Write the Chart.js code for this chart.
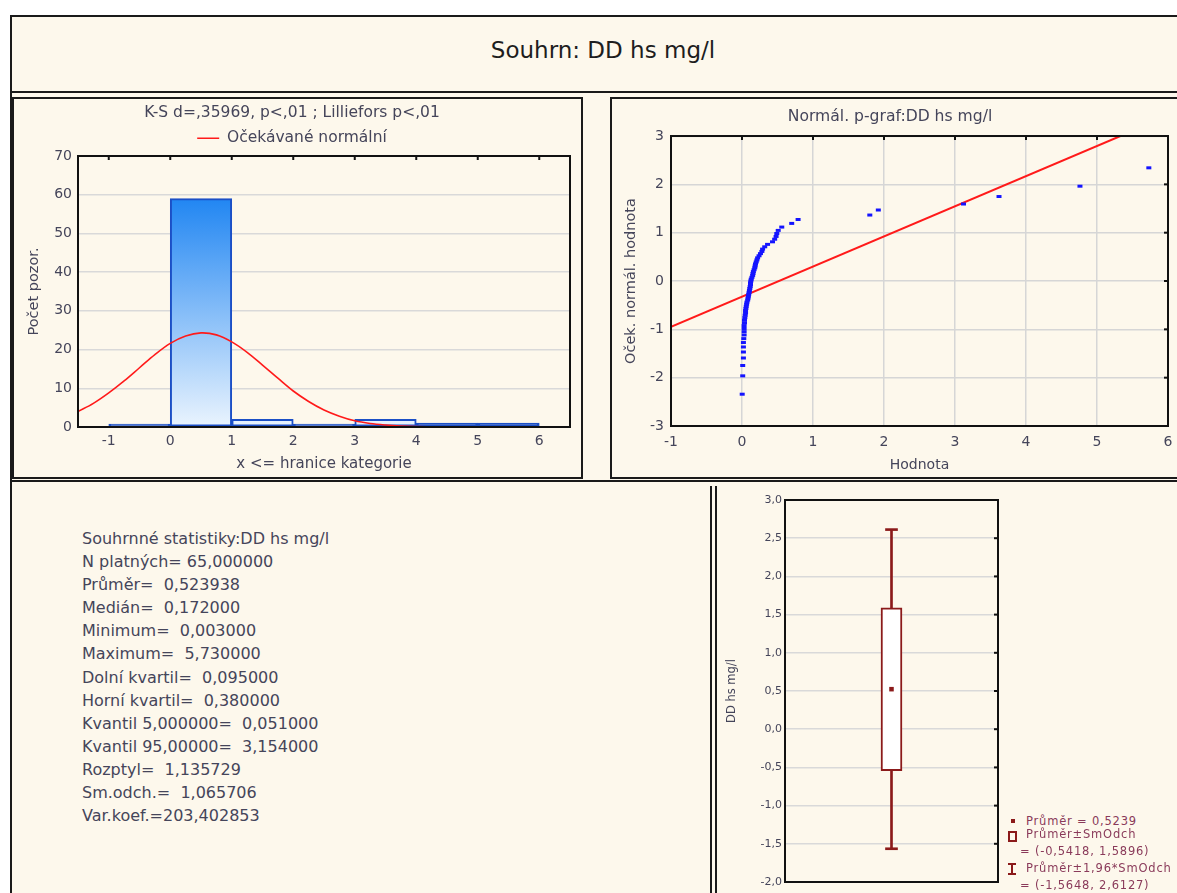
<!DOCTYPE html>
<html lang="cs">
<head>
<meta charset="utf-8">
<title>Souhrn: DD hs mg/l</title>
<script src="https://cdn.jsdelivr.net/npm/chart.js@4.4.1/dist/chart.umd.min.js"></script>
<style>
  html, body { margin: 0; padding: 0; width: 1177px; height: 893px; overflow: hidden; background: #fff; }
  body { position: relative; font-family: "DejaVu Sans", sans-serif; color: #45455a; }
  .abs { position: absolute; box-sizing: border-box; }
  #frame { left: 10px; top: 15px; width: 1190px; height: 900px; background: #fdf8ec;
           border-left: 2px solid #1a1a1a; border-top: 2px solid #1a1a1a; }
  #titlePanel { left: 10px; top: 15px; width: 1186px; height: 78px; border: 2px solid #1a1a1a; }
  #mainTitle { left: 10px; width: 1186px; top: 36px; text-align: center; font-size: 23px;
               line-height: 28px; color: #1e1e1e; }
  .panel { border: 2px solid #1a1a1a; }
  #histPanel { left: 12px; top: 97px; width: 571px; height: 382px; }
  #normPanel { left: 610px; top: 97px; width: 582px; height: 382px; }
  #lowerPanel { left: 10px; top: 480px; width: 1190px; height: 420px;
                border-top: 2px solid #1a1a1a; border-left: 2px solid #1a1a1a; }
  .vline { top: 486px; width: 2px; height: 420px; background: #1a1a1a; }
  canvas { position: absolute; }
  #stats { left: 82px; top: 527px; font-size: 16px; line-height: 23.1px; white-space: pre; color: #45455a; }
  .leg { position: absolute; font-size: 11.5px; letter-spacing: 0.8px; color: #8a3a5a; white-space: pre; line-height: 14px; }
  .sym { position: absolute; box-sizing: border-box; }
</style>
</head>
<body>
<div id="frame" class="abs"></div>
<div id="titlePanel" class="abs"></div>
<div id="mainTitle" class="abs">Souhrn: DD hs mg/l</div>
<div id="histPanel" class="abs panel"></div>
<div id="normPanel" class="abs panel"></div>
<div id="lowerPanel" class="abs"></div>
<div class="abs vline" style="left:710px"></div>
<div class="abs vline" style="left:715px"></div>

<canvas id="hist" width="567" height="377" style="left:14px; top:99px"></canvas>
<canvas id="norm" width="578" height="377" style="left:612px; top:99px"></canvas>
<canvas id="box" width="300" height="410" style="left:717px; top:483px"></canvas>

<div id="stats" class="abs"></div>
<div id="boxLegend"></div>

<script>
// histogram: x <= hranice kategorie
const binCenters = [-0.5, 0.5, 1.5, 2.5, 3.5, 4.5, 5.5];
const binCounts = [0, 59, 2, 0, 2, 1, 1];
const histXTicks = [-1, 0, 1, 2, 3, 4, 5, 6];
const histYTicks = [0, 10, 20, 30, 40, 50, 60, 70];
// expected normal curve
const curveX = [-1.5, -1.25, -1, -0.75, -0.5, -0.25, 0, 0.25, 0.5, 0.75, 1, 1.25, 1.5,
                1.75, 2, 2.25, 2.5, 2.75, 3, 3.25, 3.5, 3.75, 4, 4.25, 4.4];
const curveY = [4.0, 6.1, 8.8, 11.9, 15.3, 18.7, 21.6, 23.5, 24.3, 23.8, 22.0, 19.3, 16.0,
                12.6, 9.3, 6.6, 4.4, 2.8, 1.6, 0.9, 0.5, 0.25, 0.1, 0.05, 0.03];

// normal probability plot
const dataValues = [0.003, 0.01, 0.01, 0.02, 0.02, 0.02, 0.02, 0.025, 0.03, 0.03, 0.03, 0.03, 0.035,
                    0.035, 0.04, 0.045, 0.05, 0.05, 0.055, 0.06, 0.065, 0.07, 0.08, 0.085, 0.09, 0.095,
                    0.10, 0.105, 0.11, 0.115, 0.12, 0.12, 0.125, 0.13, 0.14, 0.15, 0.155, 0.16, 0.17,
                    0.18, 0.185, 0.19, 0.20, 0.21, 0.22, 0.24, 0.26, 0.28, 0.29, 0.32, 0.36, 0.43,
                    0.46, 0.48, 0.49, 0.51, 0.56, 0.70, 0.79, 1.80, 1.92, 3.12, 3.62, 4.76, 5.73];
const normalScores = [-2.342, -1.962, -1.748, -1.593, -1.469, -1.365, -1.273, -1.192, -1.116, -1.047,
                      -0.983, -0.922, -0.865, -0.811, -0.758, -0.708, -0.660, -0.612, -0.567, -0.522,
                      -0.479, -0.436, -0.394, -0.353, -0.313, -0.273, -0.233, -0.194, -0.155, -0.116,
                      -0.077, -0.038, 0, 0.038, 0.077, 0.116, 0.155, 0.194, 0.233, 0.273, 0.313, 0.353,
                      0.394, 0.436, 0.479, 0.522, 0.567, 0.612, 0.660, 0.708, 0.758, 0.811, 0.865,
                      0.922, 0.983, 1.047, 1.116, 1.192, 1.273, 1.365, 1.469, 1.593, 1.748, 1.962, 2.342];
const refLineX = [-1, 5.33];
const refLineY = [-0.95, 3.0];
const ppXTicks = [-1, 0, 1, 2, 3, 4, 5, 6];
const ppYTicks = [-3, -2, -1, 0, 1, 2, 3];

// box plot
const boxMean = 0.5239;
const boxSd = [-0.5418, 1.5896];   // Průměr±SmOdch
const boxCi = [-1.5648, 2.6127];   // Průměr±1,96*SmOdch
const boxYTicks = [-2, -1.5, -1, -0.5, 0, 0.5, 1, 1.5, 2, 2.5, 3];

// Souhrnné statistiky
const statLines = [
  'Souhrnné statistiky:DD hs mg/l',
  'N platných= 65,000000',
  'Průměr=  0,523938',
  'Medián=  0,172000',
  'Minimum=  0,003000',
  'Maximum=  5,730000',
  'Dolní kvartil=  0,095000',
  'Horní kvartil=  0,380000',
  'Kvantil 5,000000=  0,051000',
  'Kvantil 95,00000=  3,154000',
  'Rozptyl=  1,135729',
  'Sm.odch.=  1,065706',
  'Var.koef.=203,402853'
];

const txt = '#45455a';
const darkRed = '#8b1a1a';
const barBlue = '#1b4fc6';
Chart.defaults.font.family = '"DejaVu Sans", sans-serif';
Chart.defaults.color = txt;

document.getElementById('stats').textContent = statLines.join('\n');

// black frame round the plot area with small inward ticks
const framePlugin = {
  id: 'frame',
  afterDatasetsDraw(chart, args, opts) {
    const ctx = chart.ctx, a = chart.chartArea;
    ctx.save();
    ctx.strokeStyle = '#111';
    ctx.lineWidth = 2;
    ctx.strokeRect(a.left, a.top, a.right - a.left, a.bottom - a.top);
    (opts.sides || []).forEach(side => {
      const sc = (side === 'top' || side === 'bottom') ? chart.scales.x : chart.scales.y;
      sc.ticks.forEach(t => {
        const p = sc.getPixelForValue(t.value);
        ctx.beginPath();
        if (side === 'top') { ctx.moveTo(p, a.top); ctx.lineTo(p, a.top + 4); }
        if (side === 'bottom') { ctx.moveTo(p, a.bottom); ctx.lineTo(p, a.bottom - 4); }
        if (side === 'left') { ctx.moveTo(a.left, p); ctx.lineTo(a.left + 4, p); }
        if (side === 'right') { ctx.moveTo(a.right, p); ctx.lineTo(a.right - 4, p); }
        ctx.stroke();
      });
    });
    ctx.restore();
  }
};
Chart.register(framePlugin);

function fixedTicks(list) {
  return s => { s.ticks = list.map(v => ({ value: v })); };
}

function barFill(c) {
  const chart = c.chart;
  // very low bars come out as solid blue strips in the original
  if (c.raw && c.raw.y <= 1) return barBlue;
  if (!chart.chartArea) return '#8cc0f6';
  const y = chart.scales.y;
  const g = chart.ctx.createLinearGradient(0, y.getPixelForValue(Math.max(...binCounts)), 0, y.getPixelForValue(0));
  g.addColorStop(0, '#2186f2');
  g.addColorStop(1, '#eaf4fe');
  return g;
}

new Chart(document.getElementById('hist'), {
  type: 'bar',
  data: {
    datasets: [
      {
        type: 'bar',
        label: 'Počet pozor.',
        data: binCenters.map((x, i) => ({ x: x, y: binCounts[i] })),
        backgroundColor: barFill,
        borderColor: barBlue,
        borderWidth: 2,
        borderSkipped: false,
        barPercentage: 1,
        categoryPercentage: 1,
        minBarLength: 3,
        order: 2
      },
      {
        type: 'line',
        label: 'Očekávané normální',
        data: curveX.map((x, i) => ({ x: x, y: curveY[i] })),
        borderColor: '#ff1a1a',
        borderWidth: 1.6,
        pointRadius: 0,
        tension: 0.35,
        order: 1
      }
    ]
  },
  options: {
    responsive: false,
    animation: false,
    devicePixelRatio: 1,
    layout: { padding: { left: 0, right: 11, top: 0, bottom: 0 } },
    plugins: {
      title: {
        display: true,
        text: 'K-S d=,35969, p<,01 ; Lilliefors p<,01',
        color: txt,
        font: { size: 15.5, weight: 'normal' },
        padding: { top: 4.7, bottom: 2.2 }
      },
      legend: {
        display: true,
        labels: {
          filter: it => it.datasetIndex === 1,
          usePointStyle: true,
          pointStyle: 'line',
          pointStyleWidth: 22,
          padding: 6,
          color: txt,
          font: { size: 15.5 }
        }
      },
      tooltip: { enabled: false },
      frame: { sides: ['top'] }
    },
    scales: {
      x: {
        type: 'linear',
        min: -1.5,
        max: 6.5,
        offset: false,
        grid: { display: false, drawTicks: false, offset: false },
        border: { display: false },
        afterBuildTicks: fixedTicks(histXTicks),
        afterFit: s => { s.height = 49; },
        ticks: { font: { size: 14 }, padding: 5.6, autoSkip: false, maxRotation: 0 },
        title: { display: true, text: 'x <= hranice kategorie', font: { size: 15 }, padding: { top: 0, bottom: 3 } }
      },
      y: {
        min: 0,
        max: 70,
        grid: { color: '#d9d9d9', lineWidth: 1.5, drawTicks: false },
        border: { display: false },
        afterBuildTicks: fixedTicks(histYTicks),
        afterFit: s => { s.width = 64; },
        ticks: { font: { size: 14 }, padding: 6 },
        title: { display: true, text: 'Počet pozor.', font: { size: 14.5 }, padding: { top: 11.5, bottom: 0 } }
      }
    }
  }
});

new Chart(document.getElementById('norm'), {
  type: 'scatter',
  data: {
    datasets: [
      {
        type: 'line',
        data: refLineX.map((x, i) => ({ x: x, y: refLineY[i] })),
        borderColor: '#ff1a1a',
        borderWidth: 2,
        pointRadius: 0,
        order: 2
      },
      {
        data: dataValues.map((x, i) => ({ x: x, y: normalScores[i] })),
        pointStyle: 'line',
        pointRadius: 2.5,
        borderColor: '#1414ff',
        borderWidth: 3,
        order: 1
      }
    ]
  },
  options: {
    responsive: false,
    animation: false,
    devicePixelRatio: 1,
    layout: { padding: { left: 0, right: 22, top: 0, bottom: 0 } },
    plugins: {
      title: {
        display: true,
        text: 'Normál. p-graf:DD hs mg/l',
        color: txt,
        font: { size: 15.6, weight: 'normal' },
        padding: { top: 8.6, bottom: 9.7 }
      },
      legend: { display: false },
      tooltip: { enabled: false },
      frame: { sides: ['top', 'right'] }
    },
    scales: {
      x: {
        type: 'linear',
        min: -1,
        max: 6,
        grid: { color: '#d6d6d6', lineWidth: 1.5, drawTicks: false },
        border: { display: false },
        afterBuildTicks: fixedTicks(ppXTicks),
        afterFit: s => { s.height = 50; },
        ticks: { font: { size: 14 }, padding: 7.6, autoSkip: false, maxRotation: 0 },
        title: { display: true, text: 'Hodnota', font: { size: 14 }, padding: { top: 0, bottom: 2.6 } }
      },
      y: {
        min: -3,
        max: 3,
        grid: { color: '#d6d6d6', lineWidth: 1.5, drawTicks: false },
        border: { display: false },
        afterBuildTicks: fixedTicks(ppYTicks),
        afterFit: s => { s.width = 59; },
        ticks: { font: { size: 14 }, padding: 7 },
        title: { display: true, text: 'Oček. normál. hodnota', font: { size: 14.5 }, padding: { top: 10.3, bottom: 0 } }
      }
    }
  }
});

const capHalf = 0.013;
new Chart(document.getElementById('box'), {
  type: 'bar',
  data: {
    labels: ['DD hs mg/l'],
    datasets: [
      { type: 'line', data: [boxMean], showLine: false, pointStyle: 'rect', pointRadius: 3.2,
        backgroundColor: darkRed, borderColor: darkRed, borderWidth: 0, order: 0 },
      { data: [boxSd], backgroundColor: '#ffffff', borderColor: darkRed, borderWidth: 2,
        borderSkipped: false, barThickness: 21, grouped: false, order: 1 },
      { data: [boxCi], backgroundColor: darkRed, borderWidth: 0, barThickness: 2, grouped: false, order: 3 },
      { data: [[boxCi[1] - capHalf, boxCi[1] + capHalf]], backgroundColor: darkRed, borderWidth: 0,
        barThickness: 12, grouped: false, order: 3 },
      { data: [[boxCi[0] - capHalf, boxCi[0] + capHalf]], backgroundColor: darkRed, borderWidth: 0,
        barThickness: 12, grouped: false, order: 3 }
    ]
  },
  options: {
    responsive: false,
    animation: false,
    devicePixelRatio: 1,
    layout: { padding: { left: 0, right: 19, top: 17, bottom: 11 } },
    plugins: {
      legend: { display: false },
      tooltip: { enabled: false },
      frame: { sides: ['right'] }
    },
    scales: {
      x: { display: false },
      y: {
        min: -2,
        max: 3,
        grid: { color: '#d9d9d9', lineWidth: 1.5, drawTicks: false },
        border: { display: false },
        afterBuildTicks: fixedTicks(boxYTicks),
        afterFit: s => { s.width = 68; },
        ticks: { font: { size: 11 }, padding: 3, callback: v => v.toFixed(1).replace('.', ',') },
        title: { display: true, text: 'DD hs mg/l', font: { size: 11.5 }, padding: { top: 8, bottom: 0 } }
      }
    }
  }
});

// box plot legend
const fmt = v => v.toFixed(4).replace('.', ',');
const legendRows = [
  { text: 'Průměr = ' + fmt(boxMean), x: 1026, y: 821 },
  { text: 'Průměr±SmOdch', x: 1026, y: 834 },
  { text: '= (' + fmt(boxSd[0]) + ', ' + fmt(boxSd[1]) + ')', x: 1020, y: 851 },
  { text: 'Průměr±1,96*SmOdch', x: 1026, y: 868 },
  { text: '= (' + fmt(boxCi[0]) + ', ' + fmt(boxCi[1]) + ')', x: 1020, y: 885 }
];
const legBox = document.getElementById('boxLegend');
legendRows.forEach(r => {
  const d = document.createElement('div');
  d.className = 'leg';
  d.style.left = r.x + 'px';
  d.style.top = (r.y - 7) + 'px';
  d.textContent = r.text;
  legBox.appendChild(d);
});
const syms = [
  'left:1011px; top:819px; width:4px; height:4px; background:' + darkRed,
  'left:1008px; top:831px; width:9px; height:11px; border:2px solid ' + darkRed,
  'left:1011px; top:863px; width:2px; height:12px; background:' + darkRed,
  'left:1008px; top:863px; width:8px; height:2px; background:' + darkRed,
  'left:1008px; top:873px; width:8px; height:2px; background:' + darkRed
];
syms.forEach(s => {
  const d = document.createElement('div');
  d.className = 'sym';
  d.style.cssText = s;
  legBox.appendChild(d);
});
</script>
</body>
</html>
